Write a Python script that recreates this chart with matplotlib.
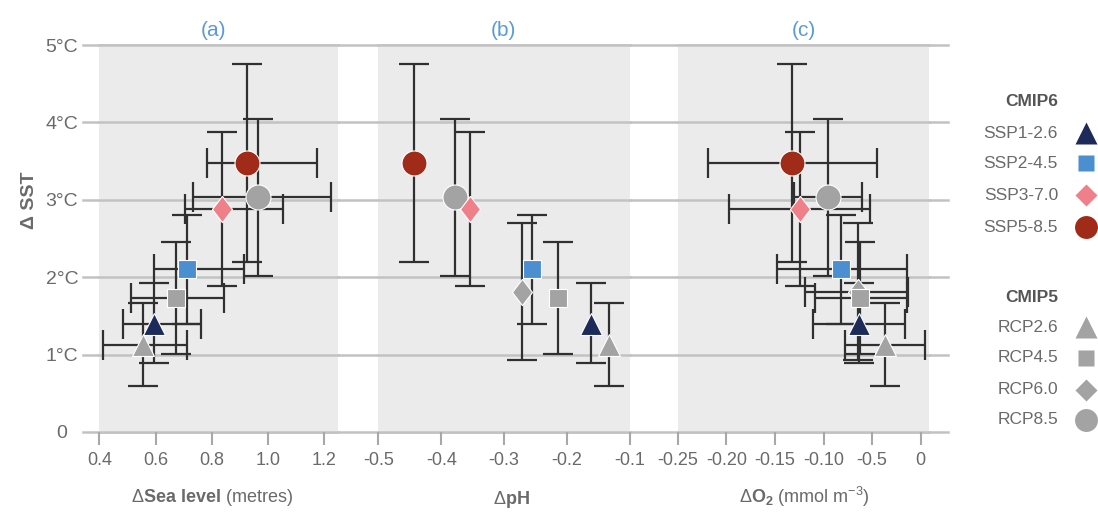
import numpy as np
import matplotlib
matplotlib.use("Agg")
import matplotlib.pyplot as plt

plt.rcParams['font.family'] = ['Liberation Sans', 'DejaVu Sans']
plt.rcParams['mathtext.fontset'] = 'custom'
plt.rcParams['mathtext.rm'] = 'Liberation Sans'
plt.rcParams['mathtext.bf'] = 'Liberation Sans:bold'
plt.rcParams['mathtext.it'] = 'Liberation Sans:italic'

scenarios = ['SSP1-2.6', 'SSP2-4.5', 'SSP3-7.0', 'SSP5-8.5',
             'RCP2.6', 'RCP4.5', 'RCP6.0', 'RCP8.5']

# SST warming (deg C) with likely range
sst = [1.40, 2.10, 2.88, 3.47, 1.12, 1.73, 1.81, 3.03]
sst_lo = [0.89, 1.40, 1.88, 2.20, 0.60, 1.01, 0.93, 2.02]
sst_hi = [1.93, 2.80, 3.87, 4.75, 1.67, 2.46, 2.70, 4.05]

# (a) sea level rise (metres), no RCP6.0
sea = [0.594, 0.713, 0.835, 0.924, 0.555, 0.672, np.nan, 0.963]
sea_lo = [0.483, 0.594, 0.704, 0.783, 0.412, 0.513, np.nan, 0.733]
sea_hi = [0.763, 0.914, 1.055, 1.174, 0.713, 0.843, np.nan, 1.225]

# (b) pH change, no range given
ph = [-0.162, -0.255, -0.354, -0.444, -0.134, -0.214, -0.271, -0.378]

# (c) O2 change (mmol m-3)
o2 = [-0.063, -0.082, -0.124, -0.132, -0.037, -0.062, -0.065, -0.095]
o2_lo = [-0.111, -0.148, -0.197, -0.219, -0.078, -0.109, -0.119, -0.130]
o2_hi = [-0.016, -0.014, -0.052, -0.045, 0.004, -0.014, -0.013, -0.060]

sst_ticks = [0, 1, 2, 3, 4, 5]
sst_labels = ['0', '1°C', '2°C', '3°C', '4°C', '5°C']
sea_ticks = [0.4, 0.6, 0.8, 1.0, 1.2]
sea_labels = ['0.4', '0.6', '0.8', '1.0', '1.2']
ph_ticks = [-0.5, -0.4, -0.3, -0.2, -0.1]
ph_labels = ['-0.5', '-0.4', '-0.3', '-0.2', '-0.1']
o2_ticks = [-0.25, -0.20, -0.15, -0.10, -0.05, 0]
o2_labels = ['-0.25', '-0.20', '-0.15', '-0.10', '-0.5', '0']

navy, blue, pink, red, grey = '#1c2b5a', '#4b8fd1', '#ef7f89', '#a02b18', '#a3a3a3'
colors = [navy, blue, pink, red, grey, grey, grey, grey]
thin_diamond = [(0, 1), (0.76, 0), (0, -1), (-0.76, 0), (0, 1)]
markers = ['^', 's', thin_diamond, 'o'] * 2
sizes = [16, 12.5, 19, 18] * 2
draw_order = [7, 6, 5, 4, 3, 2, 1, 0]

grid_col = '#c2c2c2'
bar_col = '#303030'
text_col = '#6a6a6a'
W, H = 1098, 513


def draw_panel(ax, xs, x_lo=None, x_hi=None):
    ax.set_facecolor('#ebebeb')
    for s in ax.spines.values():
        s.set_visible(False)
    ax.set_ylim(0, 5)
    ax.set_yticks([])
    for v in sst_ticks:
        ax.axhline(v, color=grid_col, lw=1.8, zorder=1, clip_on=False)
    for i in range(len(scenarios)):
        if np.isnan(xs[i]):
            continue
        xerr = None
        if x_lo is not None:
            xerr = [[xs[i] - x_lo[i]], [x_hi[i] - xs[i]]]
        yerr = [[sst[i] - sst_lo[i]], [sst_hi[i] - sst[i]]]
        ax.errorbar(xs[i], sst[i], xerr=xerr, yerr=yerr, fmt='none',
                    ecolor=bar_col, elinewidth=1.6, capsize=10.5,
                    capthick=1.6, zorder=2)
    for j, i in enumerate(draw_order):
        if np.isnan(xs[i]):
            continue
        ax.plot(xs[i], sst[i], ls='none', marker=markers[i], ms=sizes[i],
                color=colors[i], mec='white', mew=0.8, zorder=3 + j,
                clip_on=False)
    ax.tick_params(axis='x', direction='out', length=9.5, width=1.5,
                   color='#a8a8a8', pad=5, labelsize=13, labelcolor=text_col)


fig = plt.figure(figsize=(W / 100, H / 100), dpi=100)
bottom, height = 81 / H, 387 / H

bg = fig.add_axes([83.3 / W, bottom, 864.4 / W, height])
bg.set_xlim(0, 1)
bg.set_ylim(0, 5)
for s in bg.spines.values():
    s.set_visible(False)
bg.set_xticks([])
for v in sst_ticks:
    bg.axhline(v, color=grid_col, lw=1.8, zorder=1, clip_on=False)
bg.set_yticks(sst_ticks)
bg.set_yticklabels(sst_labels)
bg.tick_params(axis='y', length=0, pad=15.4, labelsize=14, labelcolor=text_col)
for lab in bg.get_yticklabels():
    lab.set_horizontalalignment('center')

ax_a = fig.add_axes([99.3 / W, bottom, 239 / W, height])
ax_a.set_xlim(0.4, 1.25)
draw_panel(ax_a, sea, sea_lo, sea_hi)
ax_a.set_xticks(sea_ticks)
ax_a.set_xticklabels(sea_labels)

ax_b = fig.add_axes([378.3 / W, bottom, 251.7 / W, height])
ax_b.set_xlim(-0.5, -0.1)
draw_panel(ax_b, ph)
ax_b.set_xticks(ph_ticks)
ax_b.set_xticklabels(ph_labels)

ax_c = fig.add_axes([677.7 / W, bottom, 251.3 / W, height])
ax_c.set_xlim(-0.25, 0.0085)
draw_panel(ax_c, o2, o2_lo, o2_hi)
ax_c.set_xticks(o2_ticks)
ax_c.set_xticklabels(o2_labels)

# overlay in pixel coordinates for titles, axis labels and legend
ov = fig.add_axes([0, 0, 1, 1])
ov.set_xlim(0, W)
ov.set_ylim(H, 0)
ov.axis('off')

title_col = '#5b9bd5'
for lab, x in zip(['(a)', '(b)', '(c)'], [213, 503, 804]):
    ov.text(x, 31, lab, ha='center', va='center', fontsize=15, color=title_col)

ov.text(30, 200, 'Δ SST', rotation=90, ha='center', va='center',
        fontsize=14, fontweight='bold', color=text_col)
ov.text(212, 497, r'$\Delta\mathbf{Sea\ level}$ (metres)', ha='center',
        va='center', fontsize=13, color=text_col)
ov.text(511, 499, r'$\Delta\mathbf{pH}$', ha='center', va='center',
        fontsize=13, color=text_col)
ov.text(804, 497, r'$\Delta\mathbf{O}_\mathbf{2}$ (mmol m$^{-3}$)',
        ha='center', va='center', fontsize=13, color=text_col)

# legend
leg_text_x, leg_mark_x = 1058, 1085.7
leg_rows = [133, 163, 195, 227, 327, 358, 390, 420]
leg_markers = ['^', 's', 'D', 'o'] * 2
leg_sizes = [16, 11.5, 11, 16.5] * 2
ov.text(leg_text_x, 102, 'CMIP6', ha='right', va='center', fontsize=12.5,
        fontweight='bold', color='#555555')
ov.text(leg_text_x, 297, 'CMIP5', ha='right', va='center', fontsize=12.5,
        fontweight='bold', color='#555555')
for i, name in enumerate(scenarios):
    ov.text(leg_text_x, leg_rows[i], name, ha='right', va='center',
            fontsize=12.5, color=text_col)
    ov.plot(leg_mark_x, leg_rows[i], ls='none', marker=leg_markers[i],
            ms=leg_sizes[i], color=colors[i], mec='none')

fig.savefig('out.png', dpi=100)
